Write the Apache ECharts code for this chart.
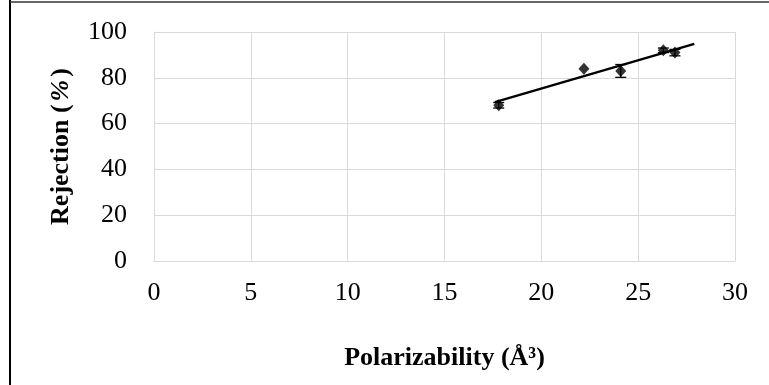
<!DOCTYPE html>
<html>
<head>
<meta charset="utf-8">
<script src="https://cdn.jsdelivr.net/npm/echarts@6/dist/echarts.min.js"></script>
<style>
html,body{margin:0;padding:0;background:#fff;}
#chart{width:769px;height:385px;}
</style>
</head>
<body>
<div id="chart"></div>
<script>
var polarizability = [17.8, 22.2, 24.1, 26.3, 26.9];
var rejection = [68, 84, 83, 92, 91];
var rejectionError = [1.2, 0, 2.8, 1.0, 1.4];
var trendX = [17.6, 27.9];
var trendY = [69.4, 94.8];
var xTicks = [0, 5, 10, 15, 20, 25, 30];
var yTicks = [0, 20, 40, 60, 80, 100];

var points = polarizability.map(function (x, i) { return [x, rejection[i]]; });
var errors = polarizability.map(function (x, i) {
  return [x, rejection[i] - rejectionError[i], rejection[i] + rejectionError[i], rejectionError[i]];
});
var trend = trendX.map(function (x, i) { return [x, trendY[i]]; });

var font = '"Liberation Serif", "Times New Roman", serif';
var fs = 26;
var chart = echarts.init(document.getElementById('chart'));
chart.setOption({
  animation: false,
  backgroundColor: '#ffffff',
  grid: { left: 154, right: 34, top: 32, bottom: 124 },
  xAxis: {
    type: 'value',
    min: xTicks[0], max: xTicks[xTicks.length - 1], interval: 5,
    axisLine: { show: true, lineStyle: { color: '#d9d9d9', width: 1 } },
    axisTick: { show: false },
    splitLine: { show: true, lineStyle: { color: '#d9d9d9', width: 1 } },
    axisLabel: { color: '#000', fontFamily: font, fontSize: fs, margin: 19 },
    name: 'Polarizability (Å³)',
    nameLocation: 'middle',
    nameGap: 84,
    nameTextStyle: { fontFamily: font, fontSize: fs, fontWeight: 'bold', color: '#000' }
  },
  yAxis: {
    type: 'value',
    min: yTicks[0], max: yTicks[yTicks.length - 1], interval: 20,
    axisLine: { show: true, lineStyle: { color: '#d9d9d9', width: 1 } },
    axisTick: { show: false },
    splitLine: { show: true, lineStyle: { color: '#d9d9d9', width: 1 } },
    axisLabel: { color: '#000', fontFamily: font, fontSize: fs, margin: 27 },
    name: '{b|Rejection (}{i|%}{b|)}',
    nameLocation: 'middle',
    nameGap: 80,
    nameTextStyle: {
      rich: {
        b: { fontFamily: font, fontSize: fs, fontWeight: 'bold', color: '#000' },
        i: { fontFamily: font, fontSize: fs, fontWeight: 'bold', fontStyle: 'italic', color: '#000', padding: [0, 3, 0, 3] }
      }
    }
  },
  graphic: [
    { type: 'line', shape: { x1: 10, y1: 0, x2: 10, y2: 385 }, style: { stroke: '#000', lineWidth: 2 } },
    { type: 'line', shape: { x1: 10, y1: 2, x2: 769, y2: 2 }, style: { stroke: '#333', lineWidth: 1.5 } }
  ],
  series: [
    {
      type: 'line',
      data: trend,
      symbol: 'none',
      lineStyle: { color: '#000', width: 2.4 },
      z: 3
    },
    {
      type: 'custom',
      data: errors,
      z: 4,
      renderItem: function (params, api) {
        if (api.value(3) <= 0) { return null; }
        var x = api.value(0);
        var lo = api.coord([x, api.value(1)]);
        var hi = api.coord([x, api.value(2)]);
        var w = 5.5;
        var st = { stroke: '#000', lineWidth: 1.3 };
        return {
          type: 'group',
          children: [
            { type: 'line', shape: { x1: lo[0], y1: lo[1], x2: hi[0], y2: hi[1] }, style: st },
            { type: 'line', shape: { x1: lo[0] - w, y1: lo[1], x2: lo[0] + w, y2: lo[1] }, style: st },
            { type: 'line', shape: { x1: hi[0] - w, y1: hi[1], x2: hi[0] + w, y2: hi[1] }, style: st }
          ]
        };
      }
    },
    {
      type: 'scatter',
      data: points,
      symbol: 'diamond',
      symbolSize: [11, 12],
      itemStyle: { color: '#000' },
      z: 5
    }
  ]
});
</script>
</body>
</html>
